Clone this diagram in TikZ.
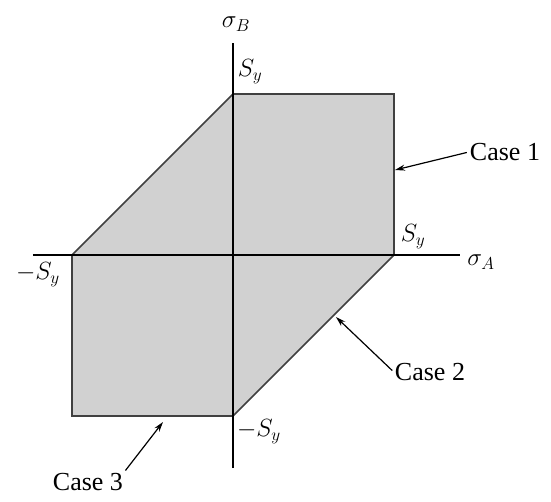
\documentclass[tikz,border=0pt]{standalone}
\usepackage{amsmath}
\usepackage{fontspec}
\setmainfont{Liberation Serif}
\usetikzlibrary{arrows.meta}

\begin{document}
\begin{tikzpicture}[x=1pt,y=1pt,
	lbl/.style={font=\fontsize{24}{28}\selectfont,inner sep=0pt},
	casetxt/.style={font=\fontsize{26}{30}\selectfont,inner sep=1pt},
	pointer/.style={-{Stealth[length=10pt,width=6pt]},line width=1.2pt,shorten <=2pt}]
	\useasboundingbox (-233,-246) rectangle (318,255);
	% safe region
	\filldraw[fill=black!18,draw=black!75,line width=1.6pt]
		(0,161) -- (161,161) -- (161,0) -- (0,-161) -- (-161,-161) -- (-161,0) -- cycle;
	% axes
	\coordinate (xl) at (-200,0);
	\coordinate (xr) at (227,0);
	\coordinate (yb) at (0,-213);
	\coordinate (yt) at (0,212);
	\draw[line width=1.6pt] (xl) -- (xr);
	\draw[line width=1.6pt] (yb) -- (yt);
	\node[lbl] (sigB) at (3,231) {$\sigma_B$};
	\node[lbl] (sigA) at (248,-7) {$\sigma_A$};
	\node[lbl] (syT) at (17,183) {$S_y$};
	\node[lbl] (syR) at (180,18) {$S_y$};
	\node[lbl] (syL) at (-195,-20) {$-S_y$};
	\node[lbl] (syB) at (26,-177) {$-S_y$};
	% cases
	\node[casetxt] (c1) at (272,103) {Case 1};
	\node[casetxt] (c2) at (197,-117) {Case 2};
	\node[casetxt] (c3) at (-145,-227) {Case 3};
	\coordinate (e1) at (162,85);
	\coordinate (e2) at (103,-62);
	\coordinate (e3) at (-70,-167);
	\draw[pointer] (c1.west) -- (e1);
	\draw[pointer] (c2.west) -- (e2);
	\draw[pointer] (c3.north east) -- (e3);
\end{tikzpicture}
\end{document}
